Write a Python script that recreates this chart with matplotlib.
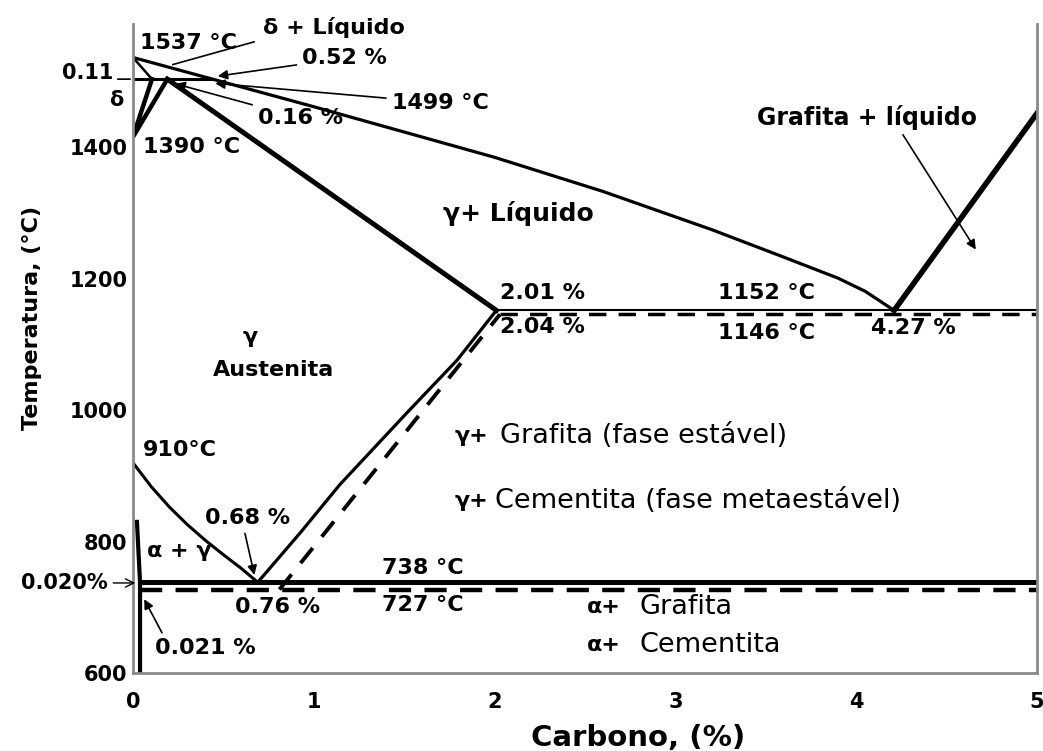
import matplotlib
matplotlib.use("Agg")
import matplotlib.pyplot as plt

# phase boundaries: carbon (%) and temperature (C)
liquidus_c = [0, 0.44, 1, 2, 2.6, 3.2, 3.6, 3.9, 4.05, 4.21]
liquidus_t = [1537, 1504, 1462, 1385, 1333, 1275, 1233, 1201, 1181, 1152]
delta_solidus_c = [0, 0.105]
delta_solidus_t = [1537, 1504]
delta_solvus_c = [0.105, 0, 0.19]
delta_solvus_t = [1504, 1416, 1504]
peritectic_c = [0, 0.44]
peritectic_t = [1504, 1504]
solidus_c = [0.19, 2.01]
solidus_t = [1504, 1152]
graphite_liq_c = [4.21, 5]
graphite_liq_t = [1152, 1452]
eutectic_c = [2.01, 5]
eutectic_t = [1152, 1152]
eutectic_st_c = [2.03, 5]
eutectic_st_t = [1146, 1146]
acm_c = [0.69, 0.924, 1.145, 1.515, 1.792, 2.01]
acm_t = [738, 813, 887, 996, 1076, 1152]
acm_st_c = [0.81, 2.03]
acm_st_t = [727, 1146]
a3_c = [0, 0.1, 0.2, 0.3, 0.4, 0.5, 0.6, 0.69]
a3_t = [920, 884, 853, 826, 802, 780, 759, 738]
eutectoid_c = [0.039, 5]
eutectoid_t = [738, 738]
eutectoid_st_c = [0.039, 5]
eutectoid_st_t = [727, 727]
ferrite_c = [0.022, 0.039, 0.039]
ferrite_t = [830, 738, 600]

x_ticks = [0, 1, 2, 3, 4, 5]
y_ticks = [600, 800, 1000, 1200, 1400]

plt.rcParams["font.family"] = ["DejaVu Sans"]
plt.rcParams["font.weight"] = "bold"

fig = plt.figure(figsize=(10.43, 7.51), dpi=100)
ax = fig.add_axes([0.1275, 0.1039, 0.8667, 0.8642])

k = "black"
ax.plot(liquidus_c, liquidus_t, color=k, lw=2.3)
ax.plot(delta_solidus_c, delta_solidus_t, color=k, lw=1.8)
ax.plot(delta_solvus_c, delta_solvus_t, color=k, lw=3.2, solid_joinstyle="miter")
ax.plot(peritectic_c, peritectic_t, color=k, lw=2.2)
ax.plot(solidus_c, solidus_t, color=k, lw=3.6)
ax.plot(graphite_liq_c, graphite_liq_t, color=k, lw=4)
ax.plot(eutectic_c, eutectic_t, color=k, lw=1.5)
ax.plot(eutectic_st_c, eutectic_st_t, color=k, lw=2.5, dashes=(5, 3.5))
ax.plot(acm_c, acm_t, color=k, lw=2.3)
ax.plot(acm_st_c, acm_st_t, color=k, lw=2.8, dashes=(5, 3.7))
ax.plot(a3_c, a3_t, color=k, lw=2.2)
ax.plot(eutectoid_c, eutectoid_t, color=k, lw=3.6)
ax.plot(eutectoid_st_c, eutectoid_st_t, color=k, lw=3.2, dashes=(5, 3))
ax.plot(ferrite_c, ferrite_t, color=k, lw=3)

ax.set_xlim(0, 5)
ax.set_ylim(600, 1588)
ax.set_xticks(x_ticks)
ax.set_yticks(y_ticks)
ax.tick_params(length=0, labelsize=15)
ax.tick_params(axis="x", pad=14)
ax.tick_params(axis="y", pad=4)
ax.spines["top"].set_visible(False)
for s in ["left", "right", "bottom"]:
    ax.spines[s].set_color("#8a8a8a")
    ax.spines[s].set_linewidth(2)

ax.set_xlabel("Carbono, (%)", fontsize=21, fontweight="bold")
ax.xaxis.set_label_coords(0.559, -0.1)
ax.xaxis.label.set_va("center")
ax.set_ylabel("Temperatura, (°C)", fontsize=16, fontweight="bold")
ax.yaxis.set_label_coords(-0.112, 0.547)
ax.yaxis.label.set_va("center")

fs = 16
thin = dict(arrowstyle="-", color=k, lw=1.2)
head = dict(arrowstyle="-|>", color=k, lw=1.2, mutation_scale=14)

# labels round the delta corner
ax.text(0.72, 1583, "δ + Líquido", fontsize=fs, va="center")
ax.annotate("", xy=(0.205, 1525), xytext=(0.686, 1562), arrowprops=thin)
ax.text(0.039, 1559, "1537 °C", fontsize=fs, va="center")
ax.annotate("0.52 %", xy=(0.454, 1508), xytext=(0.935, 1536), fontsize=fs, va="center",
            arrowprops=head)
ax.annotate("1499 °C", xy=(0.44, 1498), xytext=(1.43, 1468), fontsize=fs, va="center",
            arrowprops=head)
ax.annotate("0.16 %", xy=(0.22, 1498), xytext=(0.69, 1445), fontsize=fs, va="center",
            arrowprops=head)
ax.text(0.055, 1400, "1390 °C", fontsize=fs, va="center")
ax.text(-0.11, 1514, "0.11", fontsize=15, ha="right", va="center")
ax.annotate("", xy=(0, 1504), xytext=(-0.1, 1504), arrowprops=thin, annotation_clip=False)
ax.text(-0.09, 1472, "δ", fontsize=15, ha="center", va="center")

# liquid and eutectic region
ax.text(1.715, 1300, "γ+ Líquido", fontsize=18, va="center")
ax.annotate("Grafita + líquido", xy=(4.67, 1241), xytext=(3.45, 1446), fontsize=17, va="center",
            arrowprops=dict(arrowstyle="-|>", color=k, lw=1.2, mutation_scale=14,
                            relpos=(0.65, 0)))
ax.text(2.03, 1178, "2.01 %", fontsize=fs, va="center")
ax.text(2.03, 1127, "2.04 %", fontsize=fs, va="center")
ax.text(3.235, 1178, "1152 °C", fontsize=fs, va="center")
ax.text(3.235, 1117, "1146 °C", fontsize=fs, va="center")
ax.text(4.08, 1125, "4.27 %", fontsize=fs, va="center")

# austenite region
ax.text(0.647, 1111, "γ", fontsize=16, ha="center", va="center")
ax.text(0.78, 1061, "Austenita", fontsize=16, ha="center", va="center")
ax.text(0.055, 939, "910°C", fontsize=fs, va="center")
ax.text(1.78, 960, "γ+", fontsize=16, va="center")
ax.text(2.03, 960, "Grafita (fase estável)", fontsize=19.5, fontweight="normal", va="center")
ax.text(1.78, 862, "γ+", fontsize=16, va="center")
ax.text(2.0, 862, "Cementita (fase metaestável)", fontsize=19.5, fontweight="normal",
        va="center")

# eutectoid corner
ax.annotate("0.68 %", xy=(0.675, 745), xytext=(0.636, 836), fontsize=fs, ha="center",
            va="center", arrowprops=dict(arrowstyle="-|>", color=k, lw=1.2, mutation_scale=14,
                                         relpos=(0.45, 0)))
ax.text(0.077, 786, "α + γ", fontsize=16, va="center")
ax.annotate("0.020%", xy=(0.028, 737), xytext=(-0.14, 737), fontsize=15, ha="right",
            va="center", arrowprops=dict(arrowstyle="->", color=k, lw=1), annotation_clip=False)
ax.text(1.377, 760, "738 °C", fontsize=fs, va="center")
ax.text(1.377, 703, "727 °C", fontsize=fs, va="center")
ax.text(0.564, 700, "0.76 %", fontsize=fs, va="center")
ax.annotate("0.021 %", xy=(0.055, 716), xytext=(0.12, 638), fontsize=fs, va="center",
            arrowprops=dict(arrowstyle="-|>", color=k, lw=1.2, mutation_scale=14,
                            relpos=(0.1, 1)))
ax.text(2.51, 700, "α+", fontsize=16, va="center")
ax.text(2.8, 700, "Grafita", fontsize=19.5, fontweight="normal", va="center")
ax.text(2.51, 643, "α+", fontsize=16, va="center")
ax.text(2.8, 643, "Cementita", fontsize=19.5, fontweight="normal", va="center")

fig.savefig("out.png", dpi=100)
